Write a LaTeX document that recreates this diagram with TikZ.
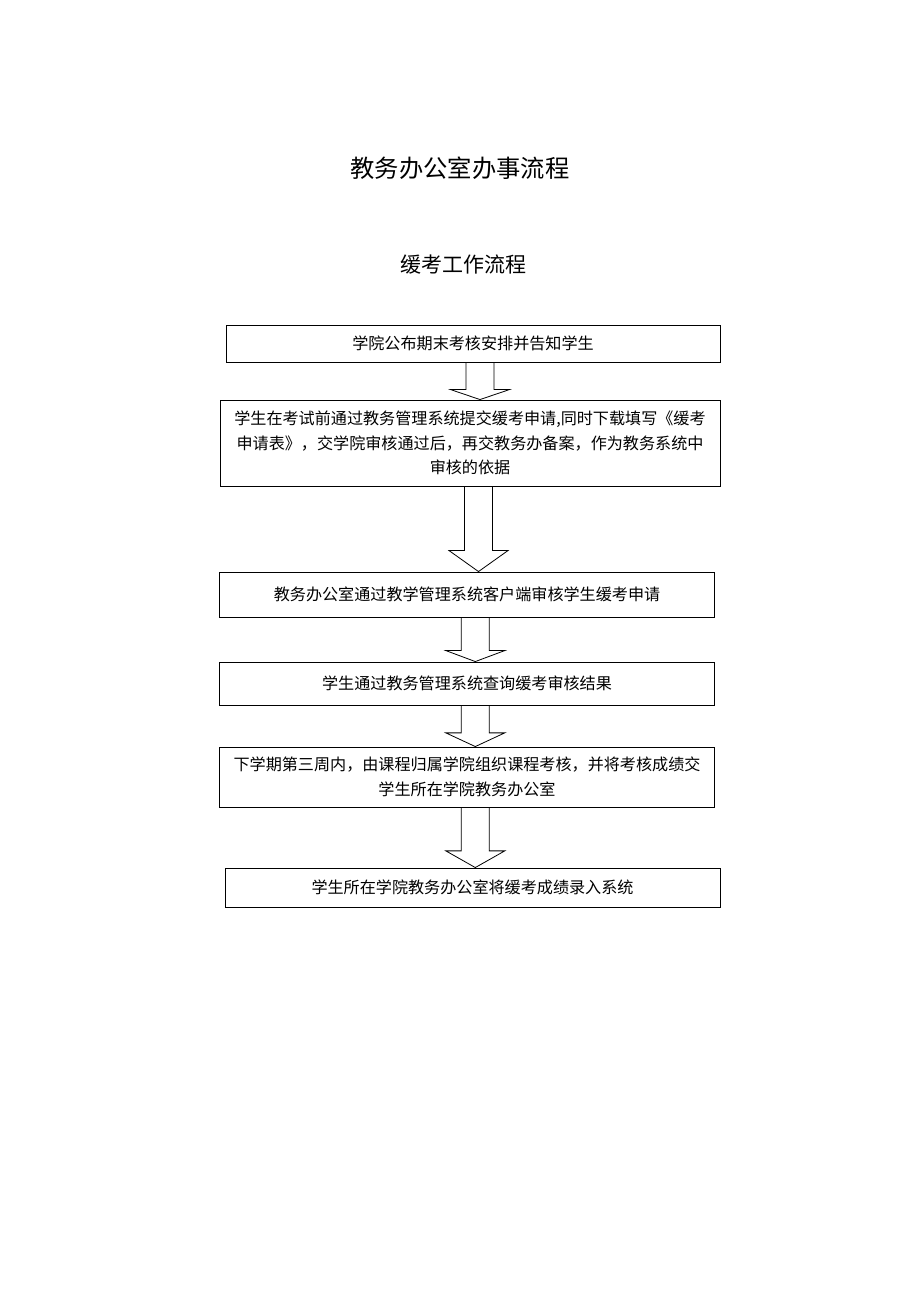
\documentclass[tikz,border=0pt]{standalone}
\usepackage{fontspec}
\newfontfamily\cjk{Noto Sans CJK SC}
\usetikzlibrary{calc}

% hollow block arrow: x centre, from node, to node, head length
\newcommand{\flowarrow}[4]{%
  \draw[blockarrow] let \p1=(#2.south), \p2=(#3.north) in
    (#1-14,\y1) -- (#1-14,\y2+#4pt) -- (#1-29.5,\y2+#4pt) -- (#1,\y2)
    -- (#1+29.5,\y2+#4pt) -- (#1+14,\y2+#4pt) -- (#1+14,\y1);}

\begin{document}
\begin{tikzpicture}[x=1pt, y=-1pt,
    stepbox/.style={draw, line width=0.9pt, inner sep=0pt, align=center,
        font=\cjk\fontsize{16.1}{24.5}\selectfont},
    blockarrow/.style={line width=0.8pt},
    titletext/.style={inner sep=0pt, font=\cjk\fontsize{24.3}{28}\selectfont}]

    \useasboundingbox (0,0) rectangle (920,1302);

    \node[titletext] (title) at (460,168) {教务办公室办事流程};
    \node[titletext, font=\cjk\fontsize{21}{24}\selectfont] (subtitle) at (463,265) {缓考工作流程};

    \node[stepbox, minimum width=494, minimum height=37] (1) at (473,343.5)
        {学院公布期末考核安排并告知学生};
    \node[stepbox, minimum width=500, minimum height=86] (2) at (470,443)
        {学生在考试前通过教务管理系统提交缓考申请,同时下载填写《缓考\\
         申请表》，交学院审核通过后，再交教务办备案，作为教务系统中\\
         审核的依据};
    \node[stepbox, minimum width=495, minimum height=45] (3) at (467,594.5)
        {教务办公室通过教学管理系统客户端审核学生缓考申请};
    \node[stepbox, minimum width=495, minimum height=43] (4) at (467,683.5)
        {学生通过教务管理系统查询缓考审核结果};
    \node[stepbox, minimum width=495, minimum height=60] (5) at (467,777)
        {下学期第三周内，由课程归属学院组织课程考核，并将考核成绩交\\
         学生所在学院教务办公室};
    \node[stepbox, minimum width=495, minimum height=39] (6) at (472.5,887.5)
        {学生所在学院教务办公室将缓考成绩录入系统};

    \flowarrow{480}{1}{2}{10}
    \flowarrow{478.5}{2}{3}{21}
    \flowarrow{475.3}{3}{4}{11}
    \flowarrow{475.3}{4}{5}{13.7}
    \flowarrow{475.3}{5}{6}{16.7}

\end{tikzpicture}
\end{document}
